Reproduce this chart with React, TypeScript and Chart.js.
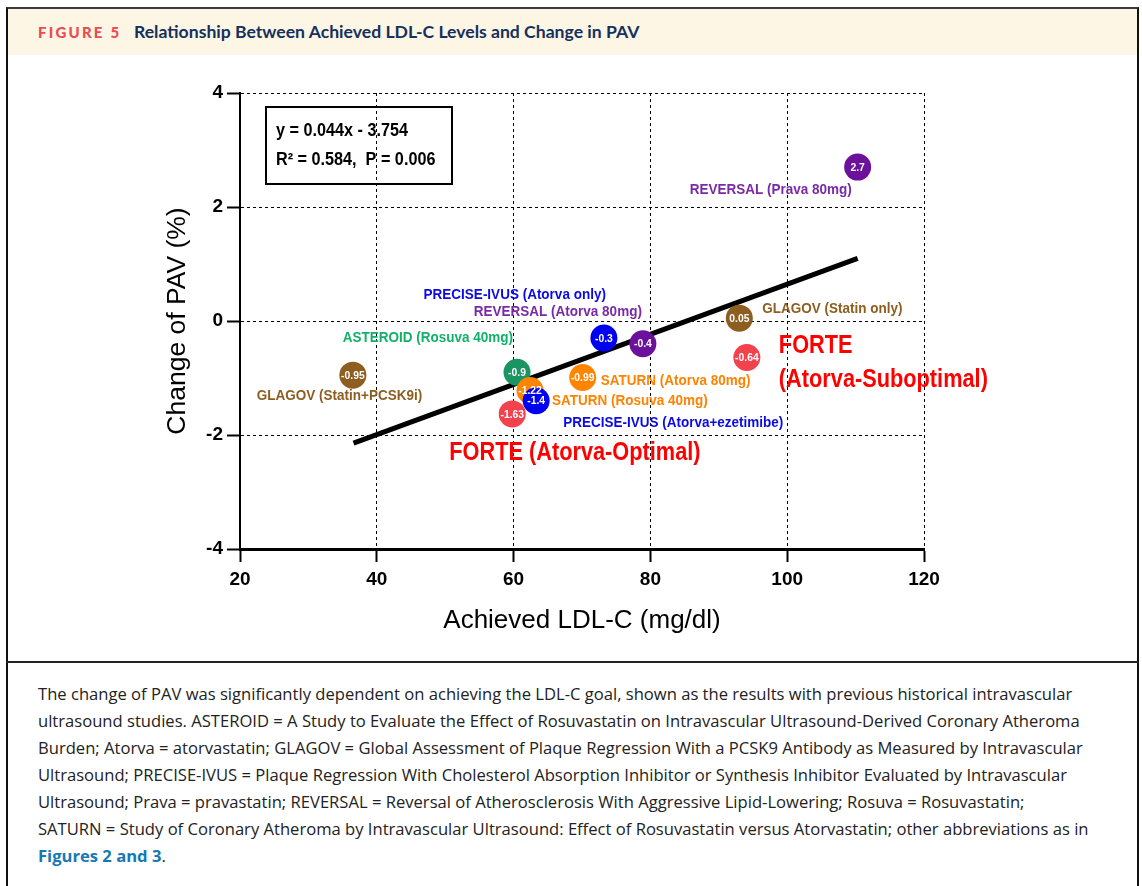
import React, { useEffect, useRef } from "react";
import { Chart, registerables } from "chart.js";

Chart.register(...registerables);

// Trials plotted: achieved LDL-C (mg/dl) against change in percent atheroma volume (%)
const studies = [
  "REVERSAL (Prava 80mg)",
  "GLAGOV (Statin only)",
  "FORTE (Atorva-Suboptimal)",
  "REVERSAL (Atorva 80mg)",
  "PRECISE-IVUS (Atorva only)",
  "SATURN (Atorva 80mg)",
  "GLAGOV (Statin+PCSK9i)",
  "ASTEROID (Rosuva 40mg)",
  "SATURN (Rosuva 40mg)",
  "PRECISE-IVUS (Atorva+ezetimibe)",
  "FORTE (Atorva-Optimal)",
];
const achievedLdl = [110.3, 93.0, 94.1, 78.9, 73.2, 70.1, 36.5, 60.5, 62.4, 63.3, 59.8];
const pavChange = [2.7, 0.05, -0.64, -0.4, -0.3, -0.99, -0.95, -0.9, -1.22, -1.4, -1.63];

// Linear regression reported on the chart
const fitSlope = 0.044;
const fitIntercept = -3.754;
const fitRange = [36.6, 110.3];
const fitText = ["y = 0.044x - 3.754", "R\u00B2 = 0.584,  P = 0.006"];

const xTicks = [20, 40, 60, 80, 100, 120];
const yTicks = [-4, -2, 0, 2, 4];

// Colours per trial family
const PURPLE = "#6c119c";
const BROWN = "#8e5d20";
const RED = "#f2424e";
const BLUE = "#0000f2";
const ORANGE = "#ff8500";
const GREEN = "#1b9463";
const bubbleColors = [PURPLE, BROWN, RED, PURPLE, BLUE, ORANGE, BROWN, GREEN, ORANGE, BLUE, RED];
const textColors = [
  "#7a2aa6", "#8e5d20", "#ff0000", "#7a2aa6", "#0a0ae6", "#ff8200",
  "#8e5d20", "#12b06a", "#ff8200", "#0a0ae6", "#ff0000",
];

// Label placement relative to each bubble (pixels)
const labelLayout = [
  { dx: -168, dy: 23, align: "left", size: 15, wrap: false },
  { dx: 23, dy: -9, align: "left", size: 15, wrap: false },
  { dx: 32, dy: -11, align: "left", size: 25, wrap: true },
  { dx: -1, dy: -32, align: "right", size: 15, wrap: false },
  { dx: 2, dy: -43, align: "right", size: 15, wrap: false },
  { dx: 18, dy: 3, align: "left", size: 15, wrap: false },
  { dx: -96, dy: 21, align: "left", size: 15, wrap: false },
  { dx: -4, dy: -34, align: "right", size: 15, wrap: false },
  { dx: 22, dy: 10, align: "left", size: 15, wrap: false },
  { dx: 27, dy: 22, align: "left", size: 15, wrap: false },
  { dx: -63, dy: 39, align: "left", size: 25, wrap: false },
];

const captionLines = [
  "The change of PAV was significantly dependent on achieving the LDL-C goal, shown as the results with previous historical intravascular",
  "ultrasound studies. ASTEROID = A Study to Evaluate the Effect of Rosuvastatin on Intravascular Ultrasound-Derived Coronary Atheroma",
  "Burden; Atorva = atorvastatin; GLAGOV = Global Assessment of Plaque Regression With a PCSK9 Antibody as Measured by Intravascular",
  "Ultrasound; PRECISE-IVUS = Plaque Regression With Cholesterol Absorption Inhibitor or Synthesis Inhibitor Evaluated by Intravascular",
  "Ultrasound; Prava = pravastatin; REVERSAL = Reversal of Atherosclerosis With Aggressive Lipid-Lowering; Rosuva = Rosuvastatin;",
  "SATURN = Study of Coronary Atheroma by Intravascular Ultrasound: Effect of Rosuvastatin versus Atorvastatin; other abbreviations as in",
];

const SANS = '"Liberation Sans", Arial, sans-serif';

// Draws text squeezed horizontally, giving a narrow-face look
function fillNarrow(ctx: CanvasRenderingContext2D, text: string, x: number, y: number, sx: number, align: CanvasTextAlign) {
  ctx.save();
  ctx.translate(x, y);
  ctx.scale(sx, 1);
  ctx.textAlign = align;
  ctx.fillText(text, 0, 0);
  ctx.restore();
}

const overlayPlugin = {
  id: "studyOverlay",
  afterDatasetsDraw(chart: any) {
    const { ctx, chartArea } = chart;
    const xs = chart.scales.x;
    const ys = chart.scales.y;
    ctx.save();

    // values inside the bubbles
    ctx.textBaseline = "middle";
    ctx.fillStyle = "#ffffff";
    ctx.font = `bold 11.5px ${SANS}`;
    pavChange.forEach((v, i) => {
      fillNarrow(ctx, String(v), xs.getPixelForValue(achievedLdl[i]), ys.getPixelForValue(v) + 0.5, 0.9, "center");
    });

    // trial names
    studies.forEach((name, i) => {
      const lay = labelLayout[i];
      const px = xs.getPixelForValue(achievedLdl[i]) + lay.dx;
      const py = ys.getPixelForValue(pavChange[i]) + lay.dy;
      ctx.fillStyle = textColors[i];
      ctx.font = `bold ${lay.size}px ${SANS}`;
      const lines = lay.wrap ? name.replace(" (", "\n(").split("\n") : [name];
      lines.forEach((ln, k) => fillNarrow(ctx, ln, px, py + k * 34, lay.size > 20 ? 0.87 : 0.9, lay.align as CanvasTextAlign));
    });

    // regression equation box
    const bx = chartArea.left + 26;
    const by = chartArea.top + 14;
    ctx.strokeStyle = "#000";
    ctx.lineWidth = 2;
    ctx.strokeRect(bx, by, 186, 77);
    ctx.fillStyle = "#000";
    ctx.font = `bold 18px ${SANS}`;
    fitText.forEach((t, k) => fillNarrow(ctx, t, bx + 10, by + 24 + k * 29, 0.9, "left"));

    ctx.restore();
  },
};

function PavChart() {
  const ref = useRef<HTMLCanvasElement | null>(null);

  useEffect(() => {
    if (!ref.current) return;
    const chart = new Chart(ref.current, {
      type: "scatter",
      data: {
        datasets: [
          {
            label: "Trials",
            data: achievedLdl.map((x, i) => ({ x, y: pavChange[i] })),
            backgroundColor: bubbleColors,
            borderWidth: 0,
            pointRadius: 13.5,
            pointHoverRadius: 13.5,
          },
          {
            type: "line",
            label: "Fit",
            data: fitRange.map((x) => ({ x, y: fitSlope * x + fitIntercept })),
            borderColor: "#000",
            borderWidth: 5,
            pointRadius: 0,
            fill: false,
          },
        ],
      },
      options: {
        responsive: false,
        animation: false,
        events: [],
        layout: { padding: { left: 0, right: 218, top: 37, bottom: 0 } },
        plugins: { legend: { display: false }, tooltip: { enabled: false } },
        scales: {
          x: {
            type: "linear",
            min: 20,
            max: 120,
            afterBuildTicks: (s: any) => {
              s.ticks = xTicks.map((v) => ({ value: v }));
            },
            ticks: {
              color: "#000",
              padding: 6,
              font: { family: SANS, size: 19, weight: "bold" },
            },
            grid: {
              color: "#000",
              lineWidth: 1,
              tickLength: 13,
              tickWidth: 2,
              tickColor: "#000",
              tickBorderDash: [],
            },
            border: { display: true, color: "#000", width: 3, dash: [3, 3] },
            title: {
              display: true,
              text: "Achieved LDL-C (mg/dl)",
              color: "#000",
              font: { family: SANS, size: 26 },
              padding: { top: 0, bottom: 24 },
            },
            afterFit: (s: any) => {
              s.height = 111;
            },
          },
          y: {
            type: "linear",
            min: -4,
            max: 4,
            afterBuildTicks: (s: any) => {
              s.ticks = yTicks.map((v) => ({ value: v }));
            },
            ticks: {
              color: "#000",
              padding: 4,
              font: { family: SANS, size: 19, weight: "bold" },
            },
            grid: {
              color: "#000",
              lineWidth: 1,
              tickLength: 13,
              tickWidth: 2,
              tickColor: "#000",
              tickBorderDash: [],
            },
            border: { display: true, color: "#000", width: 2, dash: [3, 3] },
            title: {
              display: true,
              text: "Change of PAV (%)",
              color: "#000",
              font: { family: SANS, size: 26.5 },
              padding: { top: 162, bottom: 0 },
            },
            afterFit: (s: any) => {
              s.width = 240;
            },
          },
        },
      },
      plugins: [overlayPlugin],
    } as any);
    return () => chart.destroy();
  }, []);

  return (
    <canvas
      ref={ref}
      width={1142}
      height={604}
      style={{ position: "absolute", left: 0, top: 56, width: 1142, height: 604 }}
    />
  );
}

export default function App() {
  return (
    <div
      style={{
        position: "absolute",
        left: 0,
        top: 0,
        width: 1142,
        height: 886,
        background: "#fff",
        overflow: "hidden",
      }}
    >
      {/* figure frame */}
      <div
        style={{
          position: "absolute",
          left: 6,
          top: 7,
          width: 1129,
          height: 900,
          borderTop: "2px solid #3a3a3a",
          borderLeft: "2px solid #111",
          borderRight: "2px solid #111",
        }}
      />
      {/* header band */}
      <div
        style={{
          position: "absolute",
          left: 8,
          top: 9,
          width: 1129,
          height: 46,
          background: "#fdf6e5",
          lineHeight: "46px",
          whiteSpace: "nowrap",
          fontFamily: "Lato, sans-serif",
        }}
      >
        <span
          style={{
            position: "absolute",
            left: 30,
            color: "#ec4a52",
            fontWeight: 900,
            fontSize: 15,
            letterSpacing: 2.2,
          }}
        >
          FIGURE 5
        </span>
        <span
          style={{
            position: "absolute",
            left: 126,
            color: "#14305c",
            fontWeight: 700,
            fontSize: 17.6,
          }}
        >
          Relationship Between Achieved LDL-C Levels and Change in PAV
        </span>
      </div>

      <PavChart />

      {/* divider between chart and legend text */}
      <div
        style={{
          position: "absolute",
          left: 6,
          top: 661,
          width: 1133,
          height: 2,
          background: "#222",
        }}
      />
      {/* caption */}
      <div
        style={{
          position: "absolute",
          left: 38,
          top: 680,
          fontFamily: '"Open Sans", sans-serif',
          fontSize: 16.6,
          lineHeight: "27px",
          color: "#222",
          whiteSpace: "nowrap",
        }}
      >
        {captionLines.map((ln, i) => (
          <div key={i}>{ln}</div>
        ))}
        <div>
          <span style={{ color: "#1679b4", fontWeight: 700 }}>Figures 2 and 3</span>.
        </div>
      </div>
    </div>
  );
}
